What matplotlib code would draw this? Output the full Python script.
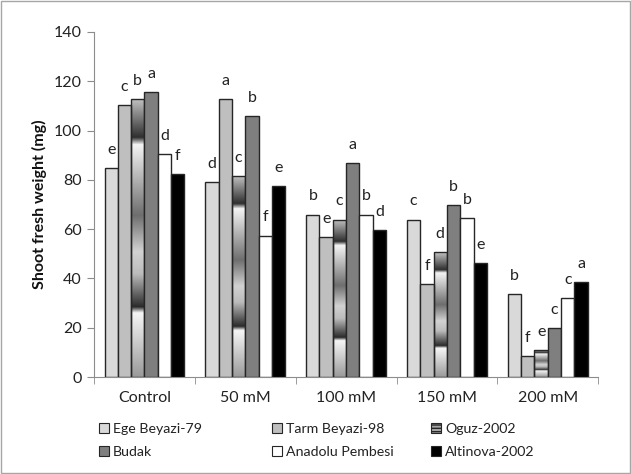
import numpy as np
import matplotlib
matplotlib.use('Agg')
import matplotlib.pyplot as plt
from matplotlib.patches import Patch, Rectangle
from matplotlib.colors import LinearSegmentedColormap

plt.rcParams['font.family'] = ['Lato', 'DejaVu Sans']

treatments = ['Control', '50 mM', '100 mM', '150 mM', '200 mM']
cultivars = ['Ege Beyazi-79', 'Tarm Beyazi-98', 'Oguz-2002',
             'Budak', 'Anadolu Pembesi', 'Altinova-2002']

# shoot fresh weight (mg), one list per cultivar across treatments
ege = [84.9, 79.1, 65.9, 63.9, 33.8]
tarm = [110.4, 112.8, 56.8, 37.6, 8.5]
oguz = [112.8, 81.7, 63.9, 50.6, 11.0]
budak = [115.5, 105.9, 86.7, 69.6, 20.0]
anadolu = [90.6, 57.4, 65.9, 64.4, 31.9]
altinova = [82.5, 77.4, 59.5, 46.1, 38.4]

# significance letters, same order
ege_lbl = ['e', 'd', 'b', 'c', 'b']
tarm_lbl = ['c', 'a', 'e', 'f', 'f']
oguz_lbl = ['b', 'c', 'c', 'd', 'e']
budak_lbl = ['a', 'b', 'a', 'b', 'c']
anadolu_lbl = ['d', 'f', 'b', 'b', 'c']
altinova_lbl = ['f', 'e', 'd', 'e', 'a']

series = [ege, tarm, oguz, budak, anadolu, altinova]
letters = [ege_lbl, tarm_lbl, oguz_lbl, budak_lbl, anadolu_lbl, altinova_lbl]
colors = ['#d9d9d9', '#bfbfbf', 'none', '#7f7f7f', '#ffffff', '#000000']

# banded grey gradient used for the Oguz-2002 bars
band = LinearSegmentedColormap.from_list('band', [
    (0.00, '#c4c4c4'), (0.14, '#2e2e2e'), (0.165, '#f4f4f4'),
    (0.42, '#6e6e6e'), (0.55, '#d2d2d2'), (0.63, '#bcbcbc'),
    (0.75, '#2a2a2a'), (0.77, '#f6f6f6'), (1.00, '#9a9a9a')])
grad = np.linspace(0, 1, 256)[:, None]

fig = plt.figure(figsize=(6.31, 4.74), dpi=100)
ax = fig.add_axes([0.149, 0.2046, 0.799, 0.728])

x = np.arange(len(treatments))
w = 0.132
for i, (vals, col, lbls) in enumerate(zip(series, colors, letters)):
    pos = x + (i - 2.5) * w
    bars = ax.bar(pos, vals, w, color=col, edgecolor='#262626', linewidth=1.0,
                  zorder=3)
    if col == 'none':
        for b in bars:
            x0, h = b.get_x(), b.get_height()
            im = ax.imshow(grad, cmap=band, aspect='auto', origin='upper',
                           extent=(x0, x0 + w, 0, h), zorder=2)
            im.set_clip_path(b)
    for p, v, t in zip(pos, vals, lbls):
        ax.annotate(t, (p, v), xytext=(0, 8), textcoords='offset points',
                    ha='center', va='bottom', fontsize=11.5, color='#222222')

ax.set_xlim(-0.5, 4.5)
ax.set_ylim(0, 140)
ax.set_yticks(np.arange(0, 141, 20))
ax.set_xticks(x)
ax.set_xticklabels(treatments)
ax.set_xticks(np.arange(-0.5, 4.6, 1), minor=True)
ax.tick_params(axis='x', which='major', length=0, pad=10, labelsize=11.5,
               labelcolor='#222222')
ax.tick_params(axis='x', which='minor', length=5, color='#8c8c8c')
ax.tick_params(axis='y', length=5, color='#8c8c8c', labelsize=11.5, pad=4,
               labelcolor='#222222')
for s in ['top', 'right']:
    ax.spines[s].set_visible(False)
for s in ['left', 'bottom']:
    ax.spines[s].set_color('#8c8c8c')
ax.set_ylabel('Shoot fresh weight (mg)', fontsize=11.5, fontweight='bold',
              labelpad=5, color='#111111')

# legend laid out in three columns, two rows
legend_colors = ['#d9d9d9', '#bfbfbf', '#a6a6a6', '#7f7f7f', '#ffffff', '#000000']
handles = [Patch(facecolor=c, edgecolor='#262626', linewidth=0.8,
                 hatch='-----' if n == 'Oguz-2002' else None)
           for c, n in zip(legend_colors, cultivars)]
col_x = [0.157, 0.431, 0.683]
for k in range(3):
    lg = fig.legend([handles[k], handles[k + 3]], [cultivars[k], cultivars[k + 3]],
                    loc='upper left', bbox_to_anchor=(col_x[k], 0.108),
                    frameon=False, fontsize=10.2, handlelength=0.7,
                    handleheight=0.7, handletextpad=0.3, labelspacing=0.8,
                    borderaxespad=0, borderpad=0, labelcolor='#222222')

fig.patches.append(Rectangle((0.002, 0.002), 0.996, 0.996, transform=fig.transFigure,
                             fill=False, edgecolor='#a6a6a6', linewidth=1))

plt.savefig('out.png', dpi=100)
